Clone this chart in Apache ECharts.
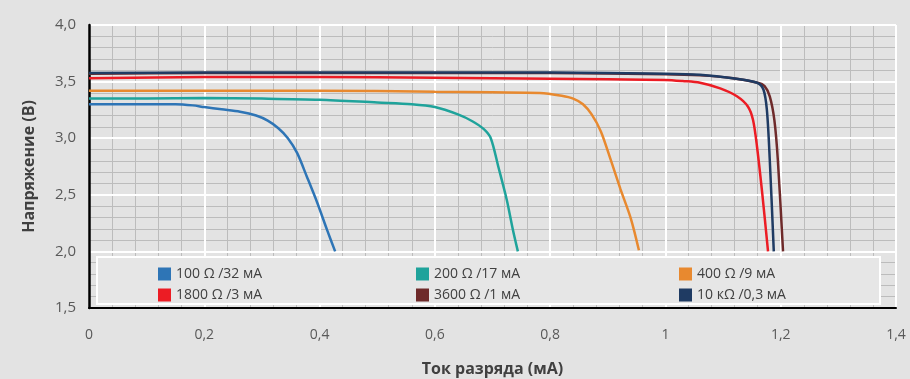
<!DOCTYPE html>
<html>
<head>
<meta charset="utf-8">
<script src="https://cdn.jsdelivr.net/npm/echarts@6/dist/echarts.min.js"></script>
<style>
  html, body { margin: 0; padding: 0; background: #e3e3e3; }
  #chart { width: 910px; height: 379px; }
</style>
</head>
<body>
<div id="chart"></div>
<script>
// имена серий (легенда)
var names = [
  "100 Ω /32 мА",
  "200 Ω /17 мА",
  "400 Ω /9 мА",
  "1800 Ω /3 мА",
  "3600 Ω /1 мА",
  "10 кΩ /0,3 мА"
];
var colors = ["#2e75b6", "#1fa39b", "#e8892f", "#ec1c24", "#6e2a2a", "#1f3b63"];

// точки [ток, напряжение]
var s100 = [[0, 3.30], [0.1, 3.30], [0.15, 3.30], [0.18, 3.29], [0.2, 3.275], [0.23, 3.255], [0.262, 3.234],
  [0.29, 3.20], [0.31, 3.155], [0.328, 3.09], [0.345, 3.0], [0.361, 2.87], [0.378, 2.66], [0.396, 2.43], [0.413, 2.19], [0.427, 2.0]];
var s200 = [[0, 3.35], [0.1, 3.35], [0.2, 3.355], [0.3, 3.35], [0.4, 3.34], [0.5, 3.315], [0.56, 3.30], [0.6, 3.275],
  [0.64, 3.21], [0.665, 3.15], [0.685, 3.08], [0.697, 3.0], [0.71, 2.75], [0.725, 2.45], [0.735, 2.2], [0.744, 2.0]];
var s400 = [[0, 3.42], [0.2, 3.42], [0.4, 3.42], [0.6, 3.41], [0.7, 3.405], [0.782, 3.40], [0.82, 3.375], [0.84, 3.35],
  [0.857, 3.30], [0.872, 3.21], [0.888, 3.06], [0.905, 2.81], [0.922, 2.55], [0.94, 2.29], [0.954, 2.01]];
var s1800 = [[0, 3.53], [0.2, 3.54], [0.4, 3.54], [0.6, 3.535], [0.8, 3.525], [0.9, 3.52], [1.0, 3.515], [1.03, 3.505],
  [1.06, 3.49], [1.095, 3.44], [1.124, 3.37], [1.143, 3.28], [1.152, 3.16], [1.159, 2.92], [1.168, 2.51], [1.178, 2.0]];
var s3600 = [[0, 3.57], [0.2, 3.575], [0.4, 3.575], [0.6, 3.575], [0.8, 3.575], [1.0, 3.565], [1.06, 3.555], [1.117, 3.53],
  [1.16, 3.49], [1.172, 3.46], [1.181, 3.37], [1.189, 3.16], [1.195, 2.81], [1.204, 2.0]];
var s10k = [[0, 3.575], [0.2, 3.58], [0.4, 3.58], [0.6, 3.58], [0.8, 3.58], [1.0, 3.57], [1.06, 3.56], [1.117, 3.53],
  [1.159, 3.49], [1.17, 3.43], [1.176, 3.25], [1.181, 2.81], [1.188, 2.0]];
var seriesData = [s100, s200, s400, s1800, s3600, s10k];

var xMin = 0, xMax = 1.4, xStep = 0.2;
var yMin = 1.5, yMax = 4.0, yStep = 0.5;

function comma(v, d) {
  var r = Math.round(v * 10) / 10;
  return (d ? r.toFixed(d) : String(r)).replace(".", ",");
}

var myChart = echarts.init(document.getElementById("chart"));

var minorLine = { show: true, lineStyle: { color: "#bcbcbc", width: 1 } };
var majorLine = { show: true, showMinLine: false, lineStyle: { color: "#ffffff", width: 2 } };

var series = names.map(function (n, i) {
  return {
    name: n,
    type: "line",
    xAxisIndex: 1,
    yAxisIndex: 1,
    data: seriesData[i],
    showSymbol: false,
    smooth: 0.3,
    lineStyle: { width: 2.5, color: colors[i] },
    itemStyle: { color: colors[i] },
    z: 3
  };
});

function legendCol(items, left) {
  return {
    orient: "vertical",
    left: left,
    top: 262,
    itemGap: 7,
    itemWidth: 13,
    itemHeight: 13,
    icon: "rect",
    data: items,
    textStyle: { color: "#404040", fontSize: 14, fontFamily: "Open Sans" }
  };
}

var option = {
  backgroundColor: "#e3e3e3",
  animation: false,
  grid: { left: 89, right: 14, top: 25, bottom: 71, containLabel: false, outerBoundsMode: "none" },
  graphic: [{
    type: "rect",
    z: 2,
    shape: { x: 97, y: 257, width: 783, height: 47 },
    style: { fill: "#e6e6e6", stroke: "#ffffff", lineWidth: 2 }
  }],
  legend: [
    legendCol([names[0], names[3]], 153),
    legendCol([names[1], names[4]], 411),
    legendCol([names[2], names[5]], 674)
  ],
  xAxis: [
    {
      type: "value", min: xMin, max: xMax, interval: xStep, z: 0,
      axisLine: { show: false }, axisTick: { show: false }, axisLabel: { show: false },
      splitLine: { show: false },
      minorTick: { show: false, splitNumber: 5 },
      minorSplitLine: minorLine
    },
    {
      type: "value", min: xMin, max: xMax, interval: xStep, z: 1, position: "bottom",
      name: "Ток разряда (мА)", nameLocation: "middle", nameGap: 53,
      nameTextStyle: { fontSize: 16, fontWeight: "bold", color: "#404040", fontFamily: "Open Sans" },
      axisLine: { show: true, lineStyle: { color: "#000000", width: 2 } },
      axisTick: { show: false },
      axisLabel: { margin: 20, color: "#595959", fontSize: 14, fontFamily: "Open Sans",
        formatter: function (v) { return comma(v); } },
      splitLine: majorLine
    }
  ],
  yAxis: [
    {
      type: "value", min: yMin, max: yMax, interval: yStep, z: 0,
      axisLine: { show: false }, axisTick: { show: false }, axisLabel: { show: false },
      splitLine: { show: false },
      minorTick: { show: false, splitNumber: 5 },
      minorSplitLine: minorLine
    },
    {
      type: "value", min: yMin, max: yMax, interval: yStep, z: 1, position: "left",
      name: "Напряжение (В)", nameLocation: "middle", nameGap: 52,
      nameTextStyle: { fontSize: 16, fontWeight: "bold", color: "#404040", fontFamily: "Open Sans" },
      axisLine: { show: true, lineStyle: { color: "#000000", width: 2.5 } },
      axisTick: { show: false },
      axisLabel: { margin: 13, color: "#595959", fontSize: 15, fontFamily: "Open Sans",
        formatter: function (v) { return comma(v, 1); } },
      splitLine: majorLine
    }
  ],
  series: series
};

myChart.setOption(option);
</script>
</body>
</html>
